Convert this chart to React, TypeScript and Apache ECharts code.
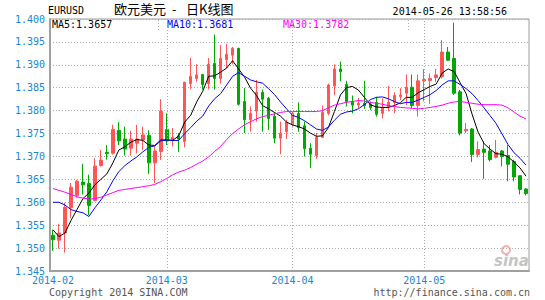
import React, { useEffect, useRef } from 'react';
import * as echarts from 'echarts';

// trading days shown on the chart
const febDays = [4, 5, 6, 7, 10, 11, 12, 13, 14, 17, 18, 19, 20, 21, 24, 25, 26, 27, 28];
const marDays = [3, 4, 5, 6, 7, 10, 11, 12, 13, 14, 17, 18, 19, 20, 21, 24, 25, 26, 27, 28, 31];
const aprDays = [1, 2, 3, 4, 7, 8, 9, 10, 11, 14, 15, 16, 17, 18, 21, 22, 23, 24, 25, 28, 29, 30];
const mayDays = [1, 2, 5, 6, 7, 8, 9, 12, 13, 14, 15, 16, 19, 20, 21, 22, 23, 26];

const yTickMin = 1.345;
const yTickMax = 1.4;
const yTickStep = 0.005;

const openP = [
  1.3528, 1.3517, 1.3533, 1.3588, 1.3615, 1.3644, 1.3641, 1.3604, 1.3680, 1.3709,
  1.3707, 1.3757, 1.3738, 1.3718, 1.3729, 1.3736, 1.3746, 1.3686, 1.3711, 1.3759,
  1.3734, 1.3745, 1.3733, 1.3859, 1.3870, 1.3879, 1.3859, 1.3903, 1.3870, 1.3911,
  1.3921, 1.3936, 1.3820, 1.3780, 1.3799, 1.3840, 1.3827, 1.3788, 1.3740, 1.3754,
  1.3770, 1.3794, 1.3767, 1.3718, 1.3702, 1.3742, 1.3794, 1.3854, 1.3891, 1.3857,
  1.3820, 1.3812, 1.3816, 1.3814, 1.3818, 1.3794, 1.3809, 1.3818, 1.3831, 1.3838,
  1.3851, 1.3811, 1.3865, 1.3866, 1.3872, 1.3874, 1.3928, 1.3914, 1.3841, 1.3756,
  1.3760, 1.3704, 1.3716, 1.3712, 1.3698, 1.3712, 1.3702, 1.3689, 1.3658, 1.3629,
];
const closeP = [
  1.3518, 1.3533, 1.3589, 1.3633, 1.3646, 1.3638, 1.3593, 1.3679, 1.3692, 1.3706,
  1.3759, 1.3734, 1.3716, 1.3738, 1.3738, 1.3747, 1.3686, 1.3712, 1.3799, 1.3734,
  1.3742, 1.3738, 1.3862, 1.3875, 1.3878, 1.3857, 1.3901, 1.3870, 1.3914, 1.3923,
  1.3936, 1.3814, 1.3780, 1.3794, 1.3840, 1.3825, 1.3783, 1.3740, 1.3751, 1.3775,
  1.3794, 1.3763, 1.3717, 1.3705, 1.3742, 1.3796, 1.3856, 1.3891, 1.3885, 1.3820,
  1.3812, 1.3816, 1.3811, 1.3807, 1.3792, 1.3807, 1.3818, 1.3833, 1.3834, 1.3851,
  1.3811, 1.3865, 1.3868, 1.3870, 1.3878, 1.3928, 1.3910, 1.3838, 1.3751, 1.3759,
  1.3704, 1.3715, 1.3709, 1.3693, 1.3709, 1.3700, 1.3683, 1.3655, 1.3628, 1.3619,
];
const lowP = [
  1.3494, 1.3499, 1.3490, 1.3566, 1.3610, 1.3617, 1.3572, 1.3602, 1.3678, 1.3693,
  1.3704, 1.3725, 1.3702, 1.3702, 1.3707, 1.3714, 1.3662, 1.3642, 1.3692, 1.3725,
  1.3722, 1.3710, 1.3720, 1.3847, 1.3863, 1.3846, 1.3847, 1.3846, 1.3859, 1.3892,
  1.3901, 1.3811, 1.3751, 1.3754, 1.3776, 1.3754, 1.3758, 1.3729, 1.3705, 1.3738,
  1.3763, 1.3754, 1.3700, 1.3675, 1.3695, 1.3740, 1.3790, 1.3834, 1.3864, 1.3809,
  1.3794, 1.3805, 1.3804, 1.3801, 1.3787, 1.3783, 1.3798, 1.3794, 1.3823, 1.3812,
  1.3805, 1.3787, 1.3820, 1.3815, 1.3863, 1.3870, 1.3908, 1.3834, 1.3746, 1.3751,
  1.3688, 1.3698, 1.3651, 1.3689, 1.3696, 1.3678, 1.3646, 1.3646, 1.3617, 1.3615,
];
const highP = [
  1.3540, 1.3553, 1.3599, 1.3642, 1.3649, 1.3684, 1.3660, 1.3696, 1.3714, 1.3725,
  1.3769, 1.3775, 1.3765, 1.3756, 1.3769, 1.3765, 1.3757, 1.3722, 1.3825, 1.3794,
  1.3762, 1.3751, 1.3863, 1.3915, 1.3901, 1.3880, 1.3915, 1.3966, 1.3943, 1.3946,
  1.3939, 1.3937, 1.3849, 1.3809, 1.3867, 1.3846, 1.3830, 1.3796, 1.3776, 1.3780,
  1.3798, 1.3818, 1.3776, 1.3729, 1.3751, 1.3811, 1.3859, 1.3901, 1.3907, 1.3865,
  1.3833, 1.3828, 1.3865, 1.3820, 1.3830, 1.3827, 1.3854, 1.3840, 1.3849, 1.3879,
  1.3879, 1.3879, 1.3891, 1.3881, 1.3891, 1.3954, 1.3939, 1.3992, 1.3845, 1.3773,
  1.3762, 1.3733, 1.3733, 1.3725, 1.3736, 1.3714, 1.3725, 1.3693, 1.3658, 1.3631,
];
const ma5 = [
  1.3540, 1.3525, 1.3533, 1.3560, 1.3584, 1.3608, 1.3620, 1.3638, 1.3650, 1.3662,
  1.3686, 1.3714, 1.3721, 1.3731, 1.3737, 1.3735, 1.3725, 1.3724, 1.3736, 1.3736,
  1.3735, 1.3745, 1.3775, 1.3790, 1.3819, 1.3842, 1.3875, 1.3876, 1.3884, 1.3893,
  1.3909, 1.3891, 1.3873, 1.3849, 1.3833, 1.3811, 1.3804, 1.3796, 1.3788, 1.3775,
  1.3769, 1.3765, 1.3760, 1.3751, 1.3744, 1.3745, 1.3763, 1.3798, 1.3834, 1.3850,
  1.3853, 1.3845, 1.3829, 1.3813, 1.3808, 1.3807, 1.3807, 1.3811, 1.3817, 1.3829,
  1.3829, 1.3839, 1.3846, 1.3853, 1.3858, 1.3882, 1.3891, 1.3885, 1.3861, 1.3837,
  1.3792, 1.3753, 1.3728, 1.3716, 1.3706, 1.3705, 1.3699, 1.3688, 1.3675, 1.3657,
];
const ma10 = [
  1.3600, 1.3600, 1.3594, 1.3584, 1.3580, 1.3577, 1.3569, 1.3588, 1.3605, 1.3623,
  1.3647, 1.3667, 1.3680, 1.3690, 1.3699, 1.3710, 1.3720, 1.3723, 1.3734, 1.3736,
  1.3735, 1.3735, 1.3750, 1.3763, 1.3777, 1.3788, 1.3810, 1.3826, 1.3837, 1.3856,
  1.3875, 1.3883, 1.3875, 1.3867, 1.3863, 1.3860, 1.3848, 1.3835, 1.3819, 1.3804,
  1.3790, 1.3785, 1.3778, 1.3769, 1.3760, 1.3757, 1.3764, 1.3779, 1.3792, 1.3797,
  1.3799, 1.3804, 1.3813, 1.3824, 1.3829, 1.3830, 1.3826, 1.3820, 1.3815, 1.3818,
  1.3818, 1.3823, 1.3829, 1.3835, 1.3844, 1.3856, 1.3865, 1.3865, 1.3857, 1.3848,
  1.3837, 1.3822, 1.3806, 1.3789, 1.3772, 1.3749, 1.3726, 1.3708, 1.3696, 1.3681,
];
const ma30 = [
  1.3630, 1.3626, 1.3622, 1.3617, 1.3612, 1.3609, 1.3607, 1.3608, 1.3611, 1.3616,
  1.3621, 1.3626, 1.3628, 1.3630, 1.3632, 1.3634, 1.3636, 1.3639, 1.3645, 1.3652,
  1.3660, 1.3666, 1.3670, 1.3676, 1.3683, 1.3690, 1.3699, 1.3711, 1.3722, 1.3737,
  1.3750, 1.3760, 1.3769, 1.3776, 1.3782, 1.3787, 1.3790, 1.3793, 1.3796, 1.3798,
  1.3798, 1.3798, 1.3798, 1.3798, 1.3798, 1.3800, 1.3806, 1.3812, 1.3815, 1.3818,
  1.3820, 1.3822, 1.3821, 1.3818, 1.3816, 1.3814, 1.3811, 1.3809, 1.3807, 1.3806,
  1.3805, 1.3804, 1.3805, 1.3807, 1.3809, 1.3812, 1.3816, 1.3819, 1.3820, 1.3818,
  1.3816, 1.3814, 1.3813, 1.3813, 1.3813, 1.3812, 1.3806, 1.3797, 1.3788, 1.3782,
];

const legendTexts = ['MA5:1.3657', 'MA10:1.3681', 'MA30:1.3782'];
const symbolText = 'EURUSD';
const titleParts = ['欧元美元', '-', '日K线图'];
const timeText = '2014-05-26 13:58:56';
const copyrightText = 'Copyright 2014 SINA.COM';
const urlText = 'http://finance.sina.com.cn';

const pad = (n: number) => (n < 10 ? '0' + n : '' + n);
const dates: string[] = [
  ...febDays.map((d) => '2014-02-' + pad(d)),
  ...marDays.map((d) => '2014-03-' + pad(d)),
  ...aprDays.map((d) => '2014-04-' + pad(d)),
  ...mayDays.map((d) => '2014-05-' + pad(d)),
];
const monthStartIdx = [0, febDays.length, febDays.length + marDays.length, febDays.length + marDays.length + aprDays.length];

const MONO = 'DejaVu Sans Mono';
const CJK = 'Noto Sans CJK SC';
const BLUE = '#1a86d4';
const UP = '#ff5555';
const DOWN = '#00a800';

export default function App() {
  const ref = useRef<HTMLDivElement>(null);
  useEffect(() => {
    if (!ref.current) return;
    const chart = echarts.init(ref.current, null, { renderer: 'svg' });
    const kData = dates.map((_, i) => [openP[i], closeP[i], lowP[i], highP[i]]);
    const option: any = {
      animation: false,
      backgroundColor: '#ffffff',
      grid: { left: 50, right: 16, top: 19, bottom: 29, show: true, borderColor: '#9a9a9a', borderWidth: 1 },
      xAxis: {
        type: 'category',
        data: dates,
        boundaryGap: true,
        axisLine: { show: true, lineStyle: { color: '#a0a0a0', width: 2 } },
        axisTick: { show: false },
        splitLine: { show: false },
        axisLabel: {
          interval: (index: number) => monthStartIdx.includes(index),
          formatter: (v: string) => v.slice(0, 7),
          color: BLUE,
          fontFamily: MONO,
          fontSize: 10,
          margin: 4,
        },
      },
      yAxis: {
        type: 'value',
        min: yTickMin,
        max: yTickMax,
        interval: yTickStep,
        axisLine: { show: true, lineStyle: { color: '#a0a0a0', width: 2 } },
        axisTick: { show: false },
        splitLine: { show: true, lineStyle: { color: '#aaaaaa', type: [1, 2], width: 1 } },
        axisLabel: {
          formatter: (v: number) => v.toFixed(3),
          color: BLUE,
          fontFamily: MONO,
          fontSize: 10,
          margin: 5,
        },
      },
      series: [
        {
          type: 'candlestick',
          data: kData,
          barWidth: 3,
          itemStyle: { color: UP, color0: DOWN, borderColor: UP, borderColor0: DOWN, borderWidth: 1 },
          markLine: {
            silent: true,
            symbol: ['none', 'none'],
            label: { show: false },
            lineStyle: { color: '#aaaaaa', type: [1, 2], width: 1 },
            data: monthStartIdx.slice(1).map((i) => ({ xAxis: dates[i] })),
          },
        },
        { type: 'line', data: ma5, showSymbol: false, z: 3, lineStyle: { color: '#000000', width: 1 } },
        { type: 'line', data: ma10, showSymbol: false, z: 3, lineStyle: { color: '#0000ff', width: 1 } },
        { type: 'line', data: ma30, showSymbol: false, z: 3, lineStyle: { color: '#ff00ff', width: 1 } },
      ],
      graphic: [
        { type: 'text', left: 48, top: 5, style: { text: symbolText, fontFamily: MONO, fontSize: 10, fill: '#000' } },
        { type: 'text', left: 114, top: 2, style: { text: titleParts[0], fontFamily: CJK, fontSize: 13, fill: '#000' } },
        { type: 'text', left: 172, top: 2, style: { text: titleParts[1], fontFamily: CJK, fontSize: 13, fill: '#000' } },
        { type: 'text', left: 186, top: 2, style: { text: titleParts[2], fontFamily: CJK, fontSize: 13, fill: '#000' } },
        { type: 'text', right: 38, top: 6, style: { text: timeText, fontFamily: MONO, fontSize: 10, fill: '#000' } },
        { type: 'text', left: 52, top: 19, style: { text: legendTexts[0], fontFamily: MONO, fontSize: 10, fill: '#000000' } },
        { type: 'text', left: 167, top: 19, style: { text: legendTexts[1], fontFamily: MONO, fontSize: 10, fill: '#0000ff' } },
        { type: 'text', left: 283, top: 19, style: { text: legendTexts[2], fontFamily: MONO, fontSize: 10, fill: '#ff00ff' } },
        { type: 'line', shape: { x1: 158.5, y1: 20, x2: 158.5, y2: 30 }, style: { stroke: '#aaaaaa', lineDash: [1, 2], lineWidth: 1 } },
        { type: 'line', shape: { x1: 408.5, y1: 20, x2: 408.5, y2: 30 }, style: { stroke: '#aaaaaa', lineDash: [1, 2], lineWidth: 1 } },
        { type: 'text', left: 49, top: 287, style: { text: copyrightText, fontFamily: MONO, fontSize: 10, fill: '#555555' } },
        { type: 'text', right: 15, top: 287, style: { text: urlText, fontFamily: MONO, fontSize: 10, fill: '#555555' } },
        { type: 'circle', shape: { cx: 506, cy: 250, r: 4 }, style: { fill: 'none', stroke: '#f3b0b0', lineWidth: 2 } },
        { type: 'text', left: 494, top: 253, style: { text: 'sina', fontFamily: 'DejaVu Sans', fontStyle: 'italic', fontWeight: 'bold', fontSize: 15, fill: '#c4c4c4' } },
      ],
    };
    chart.setOption(option);
    return () => chart.dispose();
  }, []);
  return <div ref={ref} style={{ position: 'absolute', left: 0, top: 0, width: 545, height: 300 }} />;
}
